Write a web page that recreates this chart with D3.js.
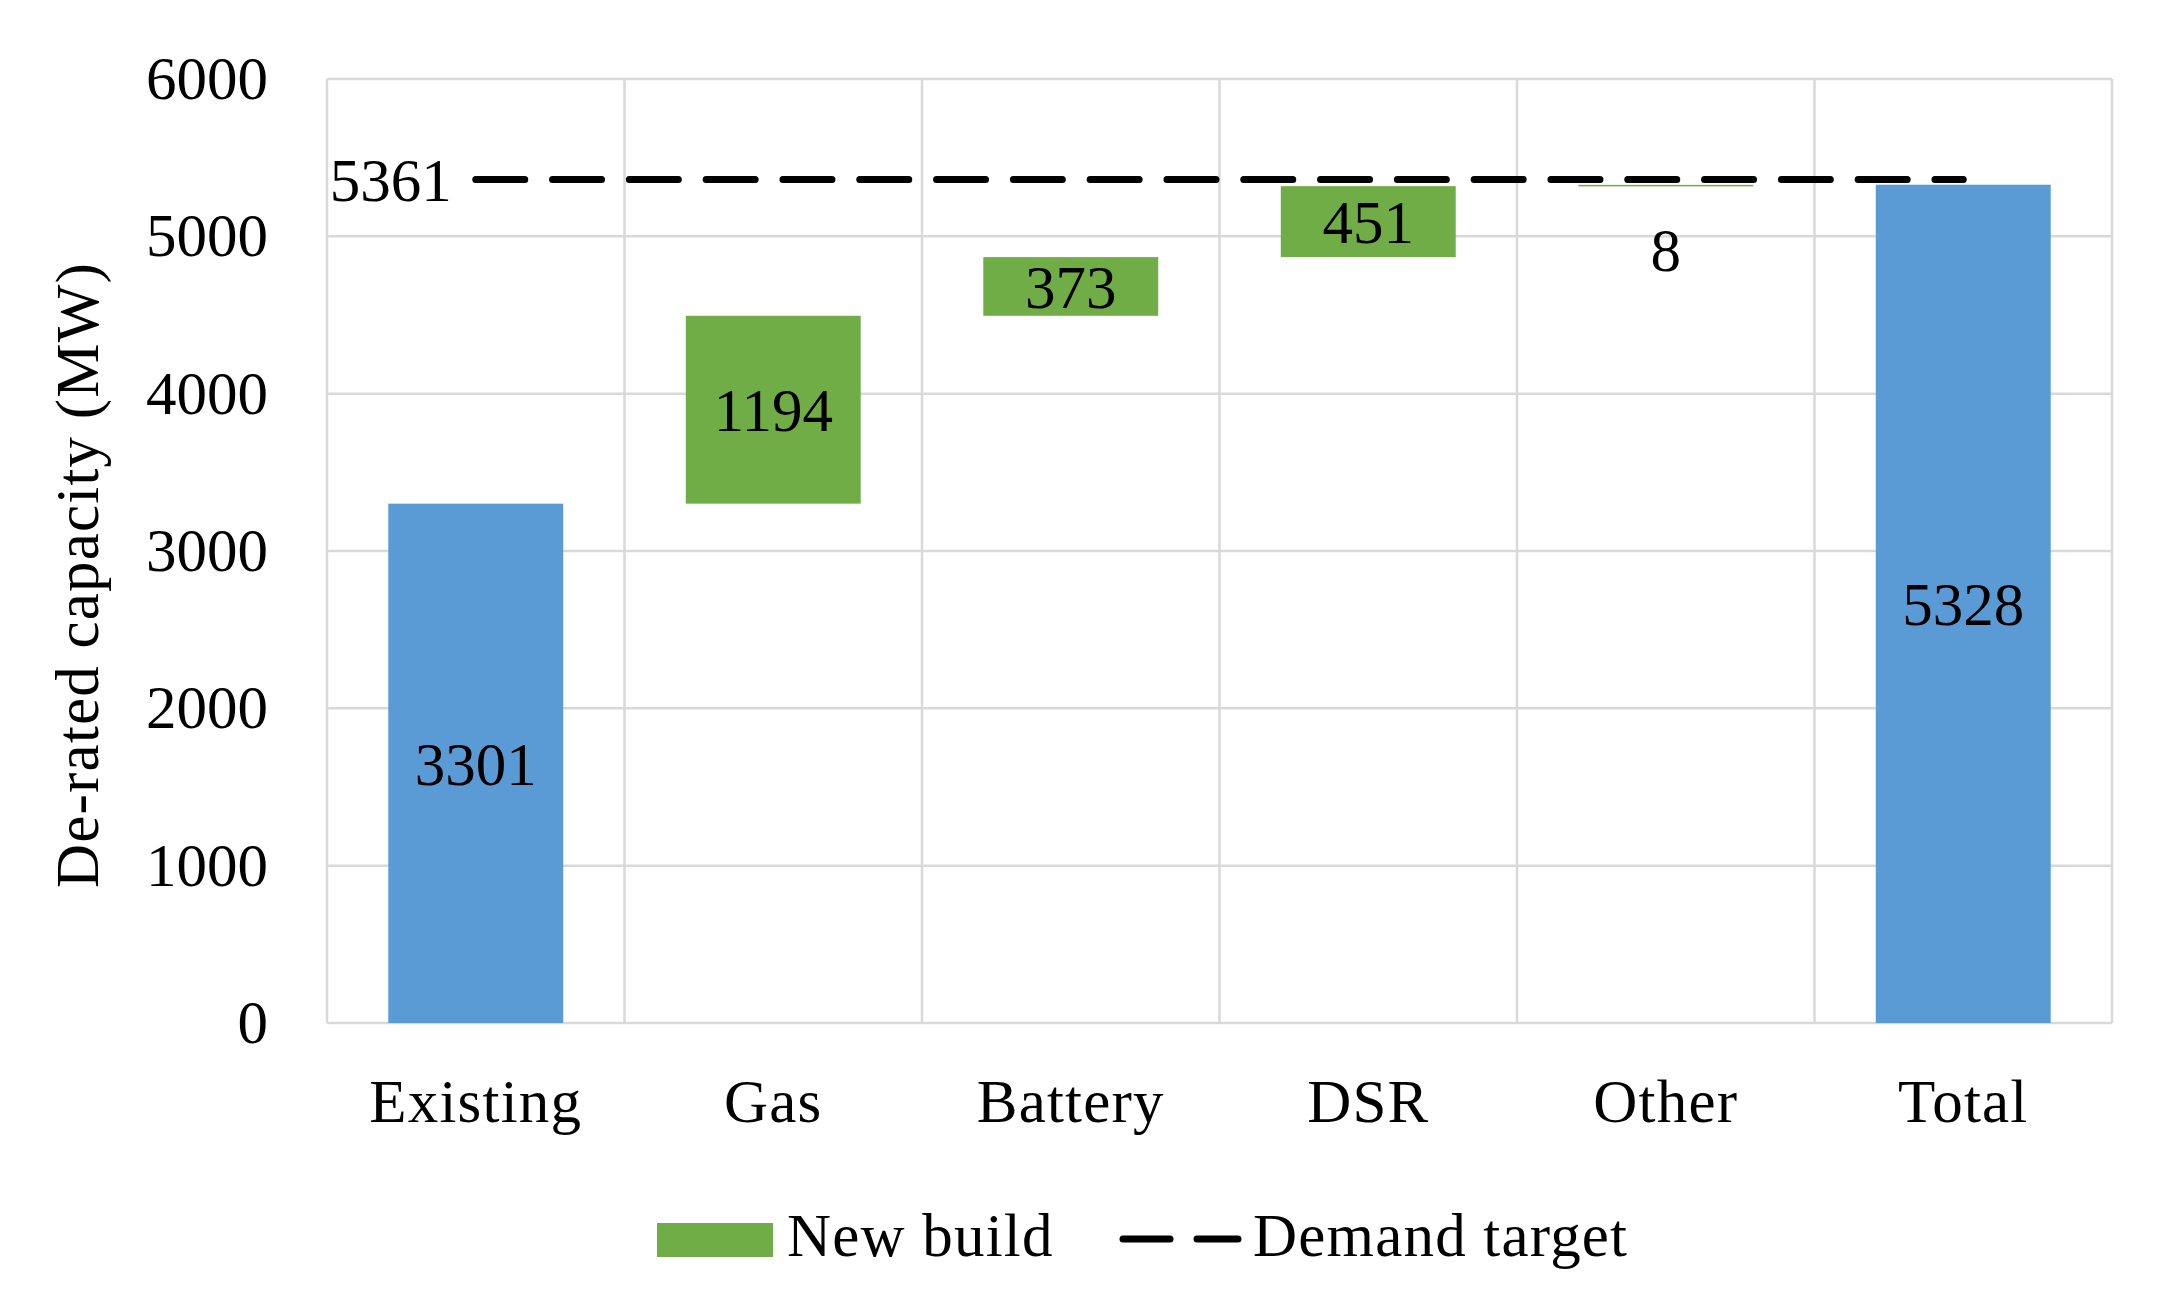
<!DOCTYPE html>
<html>
<head>
<meta charset="utf-8">
<script src="https://cdn.jsdelivr.net/npm/d3@7"></script>
<style>
  body { margin: 0; background: #fff; }
  text { font-family: 'Liberation Serif', serif; fill: #000; }
</style>
</head>
<body>
<svg id="chart" width="2179" height="1310"></svg>
<script>
// data
const categories = ["Existing", "Gas", "Battery", "DSR", "Other", "Total"]
const values = [3301, 1194, 373, 451, 8, 5328]
const barKind = ["total", "new", "new", "new", "new", "total"]
const demandTarget = 5361
const yTicks = [0, 1000, 2000, 3000, 4000, 5000, 6000]
const legendLabels = ["New build", "Demand target"]

const blue = "#5B9BD5"
const green = "#70AD47"
const gridColor = "#D9D9D9"
const fontSize = 61
const wordSpacing = 1.2 // letters in the reference font run a bit wider

const plotLeft = 327, plotRight = 2112, plotTop = 79, plotBottom = 1023

const svg = d3.select('#chart')

const x = d3.scaleBand().domain(categories).range([plotLeft, plotRight])
  .paddingInner(0.412).paddingOuter(0.206)
const y = d3.scaleLinear().domain([0, 6000]).range([plotBottom, plotTop])

// waterfall: totals start from zero, new build stacks on the running sum
let running = 0
const bars = categories.map((c, i) => {
  let base, end
  if (barKind[i] === "total") { base = 0; end = values[i]; running = values[i] }
  else { base = running; end = running + values[i]; running = end }
  return { cat: c, value: values[i], kind: barKind[i], base, end }
})

// grid
const grid = svg.append('g')
grid.selectAll('line.h').data(yTicks).join('line')
  .attr('x1', plotLeft).attr('x2', plotRight)
  .attr('y1', d => y(d)).attr('y2', d => y(d))
  .attr('stroke', gridColor).attr('stroke-width', 2.5)
const step = x.step()
grid.selectAll('line.v').data(d3.range(categories.length + 1)).join('line')
  .attr('x1', d => plotLeft + d * step).attr('x2', d => plotLeft + d * step)
  .attr('y1', plotTop).attr('y2', plotBottom)
  .attr('stroke', gridColor).attr('stroke-width', 2.5)

// bars
svg.append('g').selectAll('rect').data(bars).join('rect')
  .attr('x', d => x(d.cat))
  .attr('width', x.bandwidth())
  .attr('y', d => y(d.end))
  .attr('height', d => Math.max(1.5, y(d.base) - y(d.end)))
  .attr('fill', d => d.kind === "total" ? blue : green)

// bar labels
svg.append('g').selectAll('text').data(bars).join('text')
  .attr('x', d => x(d.cat) + x.bandwidth() / 2)
  .attr('y', d => {
    const h = y(d.base) - y(d.end)
    return h < 40 ? y(d.base) + 64 : (y(d.base) + y(d.end)) / 2
  })
  .attr('text-anchor', 'middle')
  .attr('dy', '0.35em')
  .attr('font-size', fontSize)
  .text(d => d.value)

// demand target line
const lineY = y(demandTarget)
svg.append('line')
  .attr('x1', x(categories[0]) + x.bandwidth() / 2)
  .attr('x2', x(categories[categories.length - 1]) + x.bandwidth() / 2)
  .attr('y1', lineY).attr('y2', lineY)
  .attr('stroke', '#000').attr('stroke-width', 7)
  .attr('stroke-linecap', 'round')
  .attr('stroke-dasharray', '49,27.8')
svg.append('text')
  .attr('x', x(categories[0]) + x.bandwidth() / 2 - 24)
  .attr('y', lineY)
  .attr('dy', '0.35em')
  .attr('text-anchor', 'end')
  .attr('font-size', fontSize)
  .text(demandTarget)

// axes
const yAxis = svg.append('g').attr('transform', `translate(${plotLeft},0)`)
  .call(d3.axisLeft(y).tickValues(yTicks).tickFormat(d3.format('d')).tickSize(0).tickPadding(59))
yAxis.select('.domain').remove()
yAxis.selectAll('text').attr('font-size', fontSize)
  .style('font-family', "'Liberation Serif', serif").attr('fill', '#000')

const xAxis = svg.append('g').attr('transform', `translate(0,${plotBottom})`)
  .call(d3.axisBottom(x).tickSize(0))
xAxis.select('.domain').remove()
xAxis.selectAll('text').attr('font-size', fontSize).attr('y', 99).attr('dy', 0)
  .attr('letter-spacing', wordSpacing)
  .style('font-family', "'Liberation Serif', serif").attr('fill', '#000')

// y title
svg.append('text')
  .attr('transform', 'translate(98,575) rotate(-90)')
  .attr('text-anchor', 'middle')
  .attr('font-size', fontSize)
  .attr('letter-spacing', wordSpacing)
  .text('De-rated capacity (MW)')

// legend
const leg = svg.append('g')
leg.append('rect').attr('x', 657).attr('y', 1223).attr('width', 116).attr('height', 34).attr('fill', green)
leg.append('text').attr('x', 787).attr('y', 1256).attr('font-size', fontSize)
  .attr('letter-spacing', wordSpacing).text(legendLabels[0])
leg.append('line').attr('x1', 1123).attr('x2', 1238).attr('y1', 1239).attr('y2', 1239)
  .attr('stroke', '#000').attr('stroke-width', 7).attr('stroke-linecap', 'round')
  .attr('stroke-dasharray', '47,27')
leg.append('text').attr('x', 1253).attr('y', 1256).attr('font-size', fontSize)
  .attr('letter-spacing', wordSpacing).text(legendLabels[1])
</script>
</body>
</html>
